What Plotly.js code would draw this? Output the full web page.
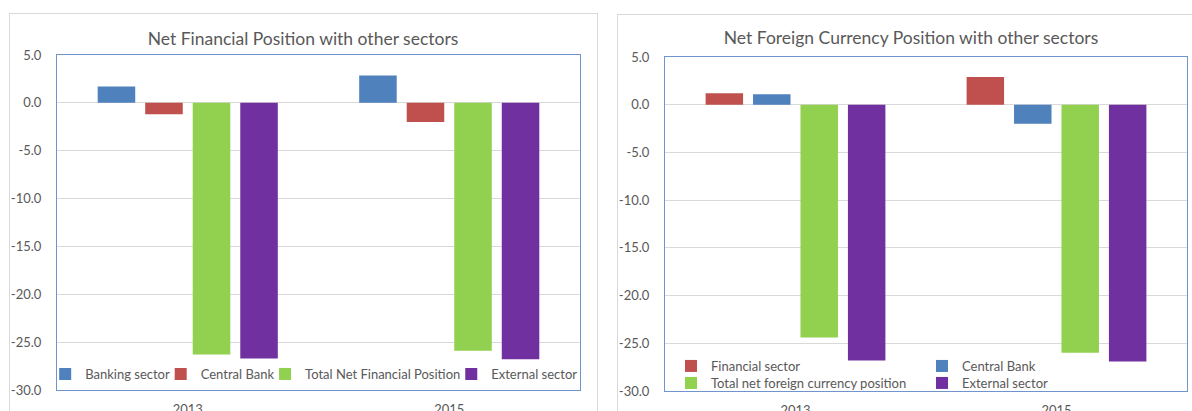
<!DOCTYPE html>
<html>
<head>
<meta charset="utf-8">
<script src="https://cdn.plot.ly/plotly-3.0.1.min.js"></script>
<style>
  html, body { margin: 0; padding: 0; width: 1192px; height: 411px; overflow: hidden; background: #fff; }
  .frame { position: absolute; border: 1px solid #d9d9d9; background: #fff; box-sizing: border-box; }
  .chart { position: absolute; top: 0; height: 411px; }
</style>
</head>
<body>
<div class="frame" style="left:9px; top:13px; width:589px; height:430px;"></div>
<div class="frame" style="left:617px; top:14px; width:600px; height:430px;"></div>
<div id="c1" class="chart" style="left:0px; width:600px;"></div>
<div id="c2" class="chart" style="left:600px; width:592px;"></div>
<script>
// ---- data ----
const years = ['2013', '2015'];
const nfpBanking  = [1.7, 2.85];
const nfpCentral  = [-1.2, -2.0];
const nfpTotal    = [-26.3, -25.9];
const nfpExternal = [-26.7, -26.8];
const nfpNames = ['Banking sector', 'Central Bank', 'Total Net Financial Position', 'External sector'];

const fcFinancial = [1.2, 2.9];
const fcCentral   = [1.1, -2.0];
const fcTotal     = [-24.4, -26.0];
const fcExternal  = [-26.8, -26.9];
const fcNames = ['Financial sector', 'Central Bank', 'Total net foreign currency position', 'External sector'];

const yTicks = [5, 0, -5, -10, -15, -20, -25, -30];
const yTickText = yTicks.map(v => v.toFixed(1));

const BLUE = '#4f81bd', RED = '#c0504d', GREEN = '#92d050', PURPLE = '#7030a0';
const TXT = '#595959';
const FONT = 'Lato, "Open Sans", sans-serif';
const LEG_SIZE = 13;

const cv = document.createElement('canvas').getContext('2d');
cv.font = LEG_SIZE + 'px Lato';
const textW = s => cv.measureText(s).width;

function makeChart(div, cfg) {
  const W = cfg.width, H = 411;
  const pl = cfg.plotL, pr = cfg.plotR, pt = cfg.plotT, pb = cfg.plotB;
  const pw = pr - pl, ph = pb - pt;
  const toX = px => (px - pl) / pw;
  const toY = py => (pb - py) / ph;

  const traces = cfg.series.map((s, i) => ({
    type: 'bar', x: years, y: s.values, name: s.name,
    marker: { color: s.color, line: { width: 0 } },
    legend: i === 0 ? 'legend' : 'legend' + (i + 1),
    hoverinfo: 'x+y+name'
  }));

  const layout = {
    width: W, height: H,
    margin: { l: pl, r: W - pr, t: pt, b: H - pb, pad: 0 },
    paper_bgcolor: 'rgba(0,0,0,0)',
    plot_bgcolor: 'rgba(0,0,0,0)',
    font: { family: FONT, color: TXT, size: 12 },
    barmode: 'group', bargap: 0.273, bargroupgap: 0.21,
    title: {
      text: cfg.title, font: { family: FONT, size: 17.5, color: TXT },
      x: toX(cfg.titleX), xanchor: 'center', xref: 'paper',
      y: 1 - cfg.titleY / H, yanchor: 'middle', yref: 'container'
    },
    xaxis: {
      type: 'category', showgrid: false, zeroline: false,
      showline: true, mirror: true, linecolor: '#6f95cc', linewidth: 1,
      ticks: '', ticklabelstandoff: 7,
      tickfont: { family: FONT, size: 13, color: TXT }, fixedrange: true
    },
    yaxis: {
      range: [-30, 5], tickvals: yTicks, ticktext: yTickText,
      showgrid: true, gridcolor: '#d9d9d9', gridwidth: 1,
      zeroline: true, zerolinecolor: '#d9d9d9', zerolinewidth: 1,
      showline: true, mirror: true, linecolor: '#6f95cc', linewidth: 1,
      ticks: '', ticklabelstandoff: 12,
      tickfont: { family: FONT, size: 13, color: TXT }, fixedrange: true
    },
    showlegend: true
  };

  // legend text start positions: keep reference positions, but never let a swatch hit the previous label
  const pos = cfg.legendPos.map(p => p.slice());
  if (cfg.legendRow) {
    for (let i = 1; i < pos.length; i++) {
      const minStart = pos[i - 1][0] + textW(cfg.series[i - 1].name) + 31;
      if (pos[i][0] < minStart) pos[i][0] = minStart;
    }
    const last = pos.length - 1;
    const overflow = pos[last][0] + textW(cfg.series[last].name) - (pr - 3);
    if (overflow > 0) pos.forEach(p => { p[0] -= overflow; });
  }

  pos.forEach((p, i) => {
    const key = i === 0 ? 'legend' : 'legend' + (i + 1);
    layout[key] = {
      x: toX(p[0] - 40), xanchor: 'left',
      y: toY(p[1]), yanchor: 'middle',
      orientation: 'h', bgcolor: 'rgba(0,0,0,0)', borderwidth: 0,
      font: { family: FONT, size: LEG_SIZE, color: TXT },
      itemclick: false, itemdoubleclick: false
    };
  });

  Plotly.newPlot(div, traces, layout, { displayModeBar: false, staticPlot: true });
}

makeChart('c1', {
  width: 600, plotL: 57, plotR: 580, plotT: 55, plotB: 390,
  title: 'Net Financial Position with other sectors', titleX: 303, titleY: 39,
  series: [
    { name: nfpNames[0], values: nfpBanking, color: BLUE },
    { name: nfpNames[1], values: nfpCentral, color: RED },
    { name: nfpNames[2], values: nfpTotal, color: GREEN },
    { name: nfpNames[3], values: nfpExternal, color: PURPLE }
  ],
  legendRow: true,
  legendPos: [[90, 374], [200, 374], [297, 374], [478, 374]]
});

makeChart('c2', {
  width: 592, plotL: 65, plotR: 587, plotT: 57, plotB: 391,
  title: 'Net Foreign Currency Position with other sectors', titleX: 311, titleY: 38,
  series: [
    { name: fcNames[0], values: fcFinancial, color: RED },
    { name: fcNames[1], values: fcCentral, color: BLUE },
    { name: fcNames[2], values: fcTotal, color: GREEN },
    { name: fcNames[3], values: fcExternal, color: PURPLE }
  ],
  legendRow: false,
  legendPos: [[111, 366], [362, 366], [111, 383], [362, 383]]
});
</script>
</body>
</html>
